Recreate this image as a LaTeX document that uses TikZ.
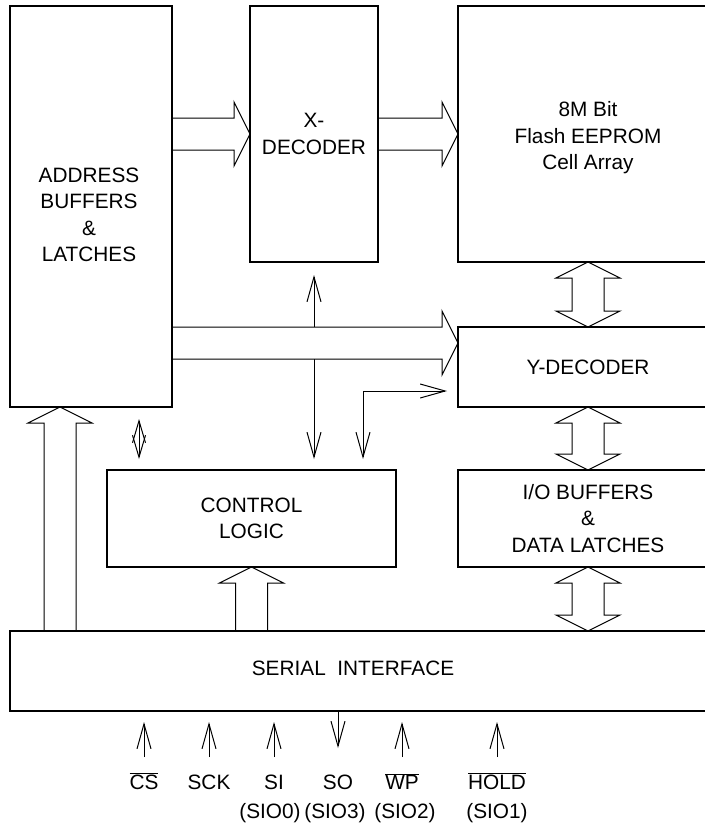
\documentclass[tikz,border=0pt]{standalone}
\usepackage{fontspec}
\setmainfont{Liberation Sans}
\usetikzlibrary{arrows.meta,calc,backgrounds}

\tikzset{
  blockbox/.style={draw, line width=2pt, inner sep=0pt, outer sep=0pt, align=center},
  wire/.style={line width=1pt},
  bus/.style={draw, line width=1pt, fill=white, line join=miter},
  pinlbl/.style={inner sep=0pt, anchor=base},
  smalltip/.style={{Straight Barb[length=22pt,width=13pt]}-{Straight Barb[length=22pt,width=13pt]}},
}

% hollow bus arrow, tail #1 to tip #2
\newcommand{\busarrow}[2]{%
  \coordinate (hb) at ($(#2)!16pt!(#1)$);
  \draw[bus] ($(#1)!16pt!90:(#2)$) -- ($(hb)!16pt!90:(#2)$) -- ($(hb)!32pt!90:(#2)$) -- (#2)
    -- ($(hb)!32pt!-90:(#2)$) -- ($(hb)!16pt!-90:(#2)$) -- ($(#1)!16pt!-90:(#2)$);
}
% hollow bus arrow with a head at both ends
\newcommand{\busboth}[2]{%
  \coordinate (ha) at ($(#1)!16pt!(#2)$);
  \coordinate (hb) at ($(#2)!16pt!(#1)$);
  \draw[bus] (#1) -- ($(ha)!32pt!90:(#2)$) -- ($(ha)!16pt!90:(#2)$) -- ($(hb)!16pt!90:(#2)$)
    -- ($(hb)!32pt!90:(#2)$) -- (#2) -- ($(hb)!32pt!-90:(#2)$) -- ($(hb)!16pt!-90:(#2)$)
    -- ($(ha)!16pt!-90:(#2)$) -- ($(ha)!32pt!-90:(#2)$) -- cycle;
}

\begin{document}
\begin{tikzpicture}[x=1pt, y=-1pt, >={Straight Barb[length=25pt,width=14pt]},
  every node/.style={font=\fontsize{20.8}{26.5}\selectfont}]
\useasboundingbox (0,0) rectangle (705,823);
\clip (0,0) rectangle (705,823);

% blocks
\node[blockbox, minimum width=162pt, minimum height=401pt] (addr) at (91,206.5) {};
\node[align=center] (addrtxt) at (89,215) {ADDRESS\\BUFFERS\\\&\\LATCHES};
\node[blockbox, minimum width=128pt, minimum height=256pt] (xdec) at (314,134) {X-\\DECODER};
\node[blockbox, minimum width=260pt, minimum height=256pt] (cell) at (588,134) {};
\node[align=center] (celltxt) at (588,138) {8M Bit\\Flash EEPROM\\Cell Array};
\node[blockbox, minimum width=260pt, minimum height=80pt] (ydec) at (588,367) {Y-DECODER};
\node[blockbox, minimum width=260pt, minimum height=97pt] (io) at (588,518.5) {I/O BUFFERS\\\&\\DATA LATCHES};
\node[blockbox, minimum width=289pt, minimum height=97pt] (ctl) at (251.5,518.5) {CONTROL\\LOGIC};
\node[blockbox, minimum width=708pt, minimum height=80pt] (serial) at (364,671) {};
\node (serialtxt) at (353,668) {SERIAL~ INTERFACE};

% pins
\coordinate (pinin) at (0,757);
\coordinate (pinout) at (0,748);
\node[pinlbl] (cs) at (144,789.5) {\(\overline{\mbox{CS}}\)};
\node[pinlbl] (sck) at (209,789.5) {SCK};
\node[pinlbl] (si) at (274,789.5) {SI};
\node[pinlbl] (so) at (338,789.5) {SO};
\node[pinlbl] (wp) at (402,789.5) {\(\overline{\mbox{WP}}\)};
\node[pinlbl] (hold) at (497,789.5) {\(\overline{\mbox{HOLD}}\)};
\node[pinlbl] (sio0) at (270,818.5) {(SIO0)};
\node[pinlbl] (sio3) at (335,818.5) {(SIO3)};
\node[pinlbl] (sio2) at (405,818.5) {(SIO2)};
\node[pinlbl] (sio1) at (497,818.5) {(SIO1)};

\foreach \p in {cs,sck,si,wp,hold}
  \draw[wire,->,shorten >=11pt] (\p |- pinin) -- (\p |- serial.south);
\draw[wire,->] (so |- serial.south) -- (so |- pinout);

\begin{scope}[on background layer]
  % control lines
  \draw[wire,<->,shorten <=13pt,shorten >=11pt] (xdec.south) -- (xdec.south |- ctl.north);
  \coordinate (bend) at (363,391);
  \draw[wire,<->,shorten <=11pt,shorten >=11pt] (bend |- ctl.north) -- (bend) -- (bend -| ydec.west);
  \coordinate (ac) at (139,0);
  \draw[wire,smalltip,shorten <=12pt,shorten >=11pt] (ac |- addr.south) -- (ac |- ctl.north);
  % buses
  \coordinate (a1) at (addr.east |- xdec.west);
  \busarrow{a1}{xdec.west}
  \busarrow{xdec.east}{cell.west}
  \coordinate (a2) at ($(addr.east |- ydec.north)+(0,16)$);
  \coordinate (a3) at ($(ydec.north west)+(0,16)$);
  \busarrow{a2}{a3}
  \busboth{cell.south}{ydec.north}
  \busboth{ydec.south}{io.north}
  \coordinate (s1) at (io.south |- serial.north);
  \busboth{io.south}{s1}
  \coordinate (s2) at (ctl.south |- serial.north);
  \busarrow{s2}{ctl.south}
  \coordinate (a4) at ($(addr.south west)+(50,0)$);
  \coordinate (s3) at (a4 |- serial.north);
  \busarrow{s3}{a4}
\end{scope}
\end{tikzpicture}
\end{document}
